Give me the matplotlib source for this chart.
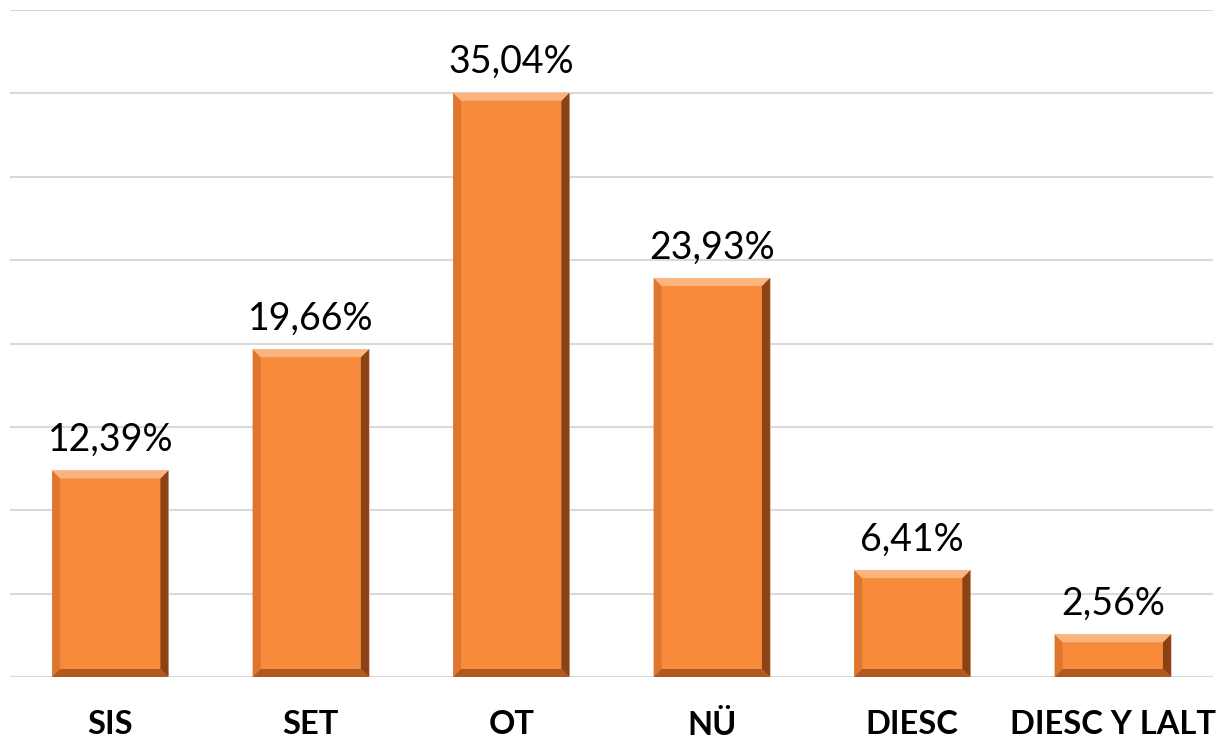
import numpy as np
import matplotlib.pyplot as plt
from matplotlib.patches import Polygon

plt.rcParams['font.family'] = ['Lato', 'DejaVu Sans']

categories = ['SIS', 'SET', 'OT', 'NÜ', 'DIESC', 'DIESC Y LALT']
values = [12.39, 19.66, 35.04, 23.93, 6.41, 2.56]
labels = ['12,39%', '19,66%', '35,04%', '23,93%', '6,41%', '2,56%']

face = '#F88B3B'
fig = plt.figure(figsize=(12.17, 7.42), dpi=100)
ax = fig.add_axes([10 / 1217, 65 / 742, 1203 / 1217, 667 / 742])

x = np.arange(len(categories))
bars = ax.bar(x, values, 0.58, color=face, edgecolor='#E0C8B8', linewidth=0.6, zorder=2)
ax.set_xlim(-0.5, len(categories) - 0.5)
ax.set_ylim(0, 40)
ax.set_yticks(np.arange(0, 41, 5))
ax.yaxis.grid(True, color='#D9D9D9', linewidth=1.5, zorder=0)
ax.set_axisbelow(True)
for s in ax.spines.values():
    s.set_visible(False)
ax.tick_params(axis='y', left=False, labelleft=False)
ax.tick_params(axis='x', bottom=False, pad=20)
ax.set_xticks(x)
ax.set_xticklabels(categories, fontsize=23.5, fontweight='bold')

# bevel size in pixels -> data units
px_x = 1203 / (len(categories))
px_y = 667 / 40
bx = 8 / px_x
by = 8 / px_y

for b in bars:
    x0, y0 = b.get_x(), b.get_y()
    x1, y1 = x0 + b.get_width(), y0 + b.get_height()
    top = [(x0, y1), (x1, y1), (x1 - bx, y1 - by), (x0 + bx, y1 - by)]
    bot = [(x0, y0), (x1, y0), (x1 - bx, y0 + by), (x0 + bx, y0 + by)]
    left = [(x0, y0), (x0, y1), (x0 + bx, y1 - by), (x0 + bx, y0 + by)]
    right = [(x1, y0), (x1, y1), (x1 - bx, y1 - by), (x1 - bx, y0 + by)]
    ax.add_patch(Polygon(left, closed=True, color='#DE7630', lw=0, zorder=3))
    ax.add_patch(Polygon(right, closed=True, color='#8A4216', lw=0, zorder=3))
    ax.add_patch(Polygon(bot, closed=True, color='#B05A22', lw=0, zorder=3))
    ax.add_patch(Polygon(top, closed=True, color='#FBB47E', lw=0, zorder=3))

for xi, v, lab in zip(x, values, labels):
    ax.annotate(lab, (xi, v), xytext=(0, 9), textcoords='offset points',
                ha='center', va='bottom', fontsize=27, color='black')

fig.savefig('out.png', dpi=100)
